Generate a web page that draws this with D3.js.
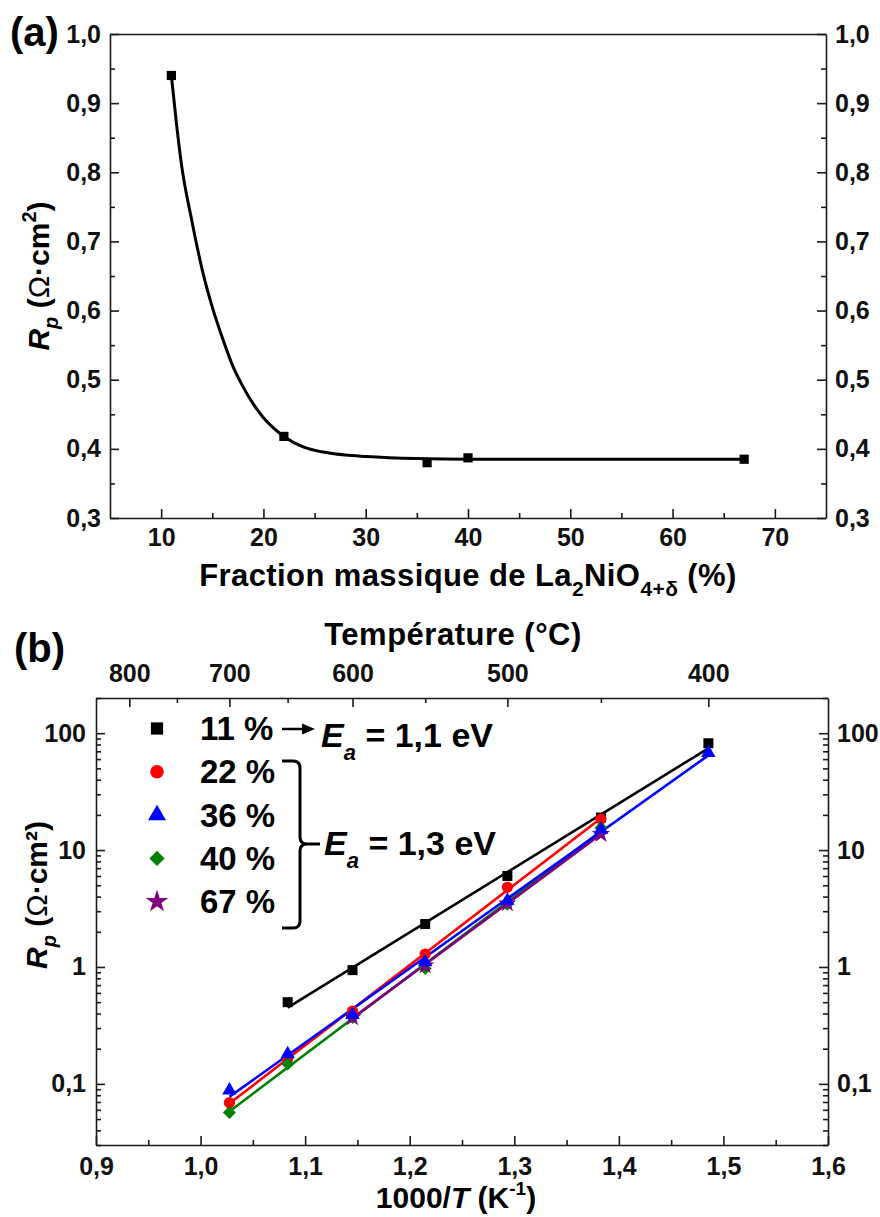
<!DOCTYPE html>
<html><head><meta charset="utf-8">
<script src="https://cdn.jsdelivr.net/npm/d3@7"></script>
<style>
body{margin:0;background:#fff}
svg{display:block;font-family:"Liberation Sans",Arial,sans-serif;font-weight:bold}
.tick text{font-family:"Liberation Sans",Arial,sans-serif;font-weight:bold;font-size:25px;fill:#111}
</style>
</head><body><svg id="c" width="880" height="1217"></svg>
<script>
// ---------- Panel (a) data ----------
const fractionX = [11, 22, 36, 40, 67];
const rpA = [0.94, 0.418, 0.380, 0.387, 0.385];
// fitted decay curve
const curveX = [11, 11.5, 12, 13, 14, 15, 16, 17, 18, 19, 20, 21, 22, 24, 26, 28, 30, 35, 40, 67];
const curveY = [0.94, 0.87, 0.81, 0.73, 0.66, 0.605, 0.56, 0.52, 0.49, 0.465, 0.445, 0.43, 0.418, 0.402, 0.395, 0.391, 0.389, 0.386, 0.385, 0.385];
const xTicksA = [10, 20, 30, 40, 50, 60, 70];
const xMinorA = [15, 25, 35, 45, 55, 65];
const yTicksA = [0.3, 0.4, 0.5, 0.6, 0.7, 0.8, 0.9, 1.0];
const yMinorA = [0.35, 0.45, 0.55, 0.65, 0.75, 0.85, 0.95];

// ---------- Panel (b) data ----------
const invT = [1.0276, 1.0833, 1.1453, 1.2148, 1.2934, 1.3829, 1.4856]; // 1000/T for 700..400 °C
const seriesNames = ["11 %", "22 %", "36 %", "40 %", "67 %"];
const seriesColors = ["#000000", "#ff0000", "#0000ff", "#008000", "#800080"];
const seriesSymbols = ["square", "circle", "triangle", "diamond", "star"];
const rp11 = [null, 0.50, 0.94, 2.33, 6.0, 19.0, 82];
const rp22 = [0.069, 0.165, 0.42, 1.29, 4.8, 18.4, null];
const rp36 = [0.088, 0.18, 0.39, 1.1, 3.7, 15.0, 68];
const rp40 = [0.057, 0.148, 0.37, 0.97, 3.45, 15.5, null];
const rp67 = [null, null, 0.37, 1.03, 3.5, 13.7, null];
const xTicksB = [0.9, 1.0, 1.1, 1.2, 1.3, 1.4, 1.5, 1.6];
const xMinorB = [0.95, 1.05, 1.15, 1.25, 1.35, 1.45, 1.55];
const yTicksB = [0.1, 1, 10, 100];
const tempTicks = [800, 700, 600, 500, 400];
const tempMinor = [750, 650, 550, 450];
const drawOrder = [0, 1, 3, 4, 2];

const svg = d3.select("#c");
const comma = d => d3.format(".1f")(d).replace(".", ",");
const AX = "#1a1a1a";

function styleAxis(g) {
  g.select(".domain").attr("stroke", AX).attr("stroke-width", 1.6);
  g.selectAll(".tick line").attr("stroke", AX).attr("stroke-width", 1.6);
}

// ================= Panel (a) =================
const xa = d3.scaleLinear().domain([5, 75]).range([110, 826]);
const ya = d3.scaleLinear().domain([0.3, 1.0]).range([518, 34]);

const ga = svg.append("g");
ga.append("g").attr("transform", "translate(0,518)")
  .call(d3.axisBottom(xa).tickValues(xMinorA).tickSize(-5).tickSizeOuter(0).tickFormat(""))
  .call(g => g.select(".domain").remove()).call(styleAxis);
ga.append("g").attr("transform", "translate(110,0)")
  .call(d3.axisLeft(ya).tickValues(yMinorA).tickSize(-5).tickSizeOuter(0).tickFormat(""))
  .call(g => g.select(".domain").remove()).call(styleAxis);
ga.append("g").attr("transform", "translate(826,0)")
  .call(d3.axisRight(ya).tickValues(yMinorA).tickSize(-5).tickSizeOuter(0).tickFormat(""))
  .call(g => g.select(".domain").remove()).call(styleAxis);
ga.append("g").attr("transform", "translate(0,518)")
  .call(d3.axisBottom(xa).tickValues(xTicksA).tickSize(-9).tickSizeOuter(0).tickPadding(10).tickFormat(d3.format("d")))
  .call(styleAxis);
ga.append("g").attr("transform", "translate(0,34)")
  .call(d3.axisTop(xa).tickValues([]).tickSizeOuter(0)).call(styleAxis);
ga.append("g").attr("transform", "translate(110,0)")
  .call(d3.axisLeft(ya).tickValues(yTicksA).tickSize(-9).tickSizeOuter(0).tickPadding(9).tickFormat(comma))
  .call(styleAxis);
ga.append("g").attr("transform", "translate(826,0)")
  .call(d3.axisRight(ya).tickValues(yTicksA).tickSize(-9).tickSizeOuter(0).tickPadding(9).tickFormat(comma))
  .call(styleAxis);

ga.append("path")
  .datum(curveX.map((x, i) => [x, curveY[i]]))
  .attr("fill", "none").attr("stroke", "#000").attr("stroke-width", 3)
  .attr("d", d3.line().x(d => xa(d[0])).y(d => ya(d[1])).curve(d3.curveMonotoneX));

ga.selectAll("path.ma").data(fractionX).enter().append("path")
  .attr("class", "ma")
  .attr("transform", (d, i) => `translate(${xa(d)},${ya(rpA[i])})`)
  .attr("d", d3.symbol(d3.symbolSquare, 85)).attr("fill", "#000");

svg.append("text").attr("x", 10).attr("y", 46).attr("font-size", 40).text("(a)");

svg.append("text").attr("x", 468).attr("y", 586).attr("text-anchor", "middle").attr("font-size", 31)
  .attr("letter-spacing", 0.4)
  .call(t => {
    t.append("tspan").text("Fraction massique de La");
    t.append("tspan").attr("font-size", 21).attr("dy", 10).text("2");
    t.append("tspan").attr("dy", -10).text("NiO");
    t.append("tspan").attr("font-size", 21).attr("dy", 10).text("4+δ");
    t.append("tspan").attr("dy", -10).text(" (%)");
  });

svg.append("text").attr("transform", "translate(49,276) rotate(-90)").attr("text-anchor", "middle").attr("font-size", 30)
  .call(t => {
    t.append("tspan").attr("font-style", "italic").text("R");
    t.append("tspan").attr("font-style", "italic").attr("font-size", 20).attr("dy", 9).text("p");
    t.append("tspan").attr("dy", -9).text(" (");
    t.append("tspan").attr("font-weight", "normal").text("Ω");
    t.append("tspan").text("·cm");
    t.append("tspan").attr("font-size", 20).attr("dy", -13).text("2");
    t.append("tspan").attr("dy", 13).text(")");
  });

// ================= Panel (b) =================
const xb = d3.scaleLinear().domain([0.9, 1.6]).range([96, 828]);
const yb = d3.scaleLog().domain([0.03, 200]).range([1145, 698]);
const tempPos = T => 1000 / (T + 273.15);

const minorLog = [];
[0.01, 0.1, 1, 10, 100].forEach(dec => { for (let k = 2; k <= 9; k++) { const v = dec * k; if (v >= 0.03 && v <= 200) minorLog.push(v); } });

const gb = svg.append("g");
gb.append("g").attr("transform", "translate(96,0)")
  .call(d3.axisLeft(yb).tickValues(minorLog).tickSize(-5).tickSizeOuter(0).tickFormat(""))
  .call(g => g.select(".domain").remove()).call(styleAxis);
gb.append("g").attr("transform", "translate(828,0)")
  .call(d3.axisRight(yb).tickValues(minorLog).tickSize(-5).tickSizeOuter(0).tickFormat(""))
  .call(g => g.select(".domain").remove()).call(styleAxis);
gb.append("g").attr("transform", "translate(0,1145)")
  .call(d3.axisBottom(xb).tickValues(xMinorB).tickSize(-5).tickSizeOuter(0).tickFormat(""))
  .call(g => g.select(".domain").remove()).call(styleAxis);
gb.append("g").attr("transform", "translate(0,698)")
  .call(d3.axisTop(xb).tickValues(tempMinor.map(tempPos)).tickSize(-5).tickSizeOuter(0).tickFormat(""))
  .call(g => g.select(".domain").remove()).call(styleAxis);

const fmtLog = d => d < 1 ? String(d).replace(".", ",") : String(d);
gb.append("g").attr("transform", "translate(96,0)")
  .call(d3.axisLeft(yb).tickValues(yTicksB).tickSize(-9).tickSizeOuter(0).tickPadding(10).tickFormat(fmtLog))
  .call(styleAxis);
gb.append("g").attr("transform", "translate(828,0)")
  .call(d3.axisRight(yb).tickValues(yTicksB).tickSize(-9).tickSizeOuter(0).tickPadding(9).tickFormat(fmtLog))
  .call(styleAxis);
gb.append("g").attr("transform", "translate(0,1145)")
  .call(d3.axisBottom(xb).tickValues(xTicksB).tickSize(-9).tickSizeOuter(0).tickPadding(12).tickFormat(comma))
  .call(styleAxis);
const topAx = d3.axisTop(xb).tickValues(tempTicks.map(tempPos)).tickSize(-9).tickSizeOuter(0).tickPadding(16)
  .tickFormat((d, i) => String(tempTicks[i]));
gb.append("g").attr("transform", "translate(0,698)").call(topAx).call(styleAxis);

const allRp = [rp11, rp22, rp36, rp40, rp67];
const symMap = {
  square: d3.symbolSquare, circle: d3.symbolCircle, triangle: d3.symbolTriangle,
  diamond: d3.symbolSquare, star: d3.symbolStar
};
const symSize = { square: 100, circle: 100, triangle: 90, diamond: 85, star: 105 };

// fitted lines (least squares in log space, computed from the data)
drawOrder.forEach(si => {
  const pts = invT.map((x, i) => [x, allRp[si][i]]).filter(p => p[1] != null);
  const n = pts.length;
  const mx = d3.mean(pts, p => p[0]);
  const my = d3.mean(pts, p => Math.log10(p[1]));
  const sxy = d3.sum(pts, p => (p[0] - mx) * (Math.log10(p[1]) - my));
  const sxx = d3.sum(pts, p => (p[0] - mx) ** 2);
  const b = sxy / sxx, a = my - b * mx;
  const x0 = pts[0][0], x1 = pts[n - 1][0];
  gb.append("line")
    .attr("x1", xb(x0)).attr("y1", yb(Math.pow(10, a + b * x0)))
    .attr("x2", xb(x1)).attr("y2", yb(Math.pow(10, a + b * x1)))
    .attr("stroke", seriesColors[si]).attr("stroke-width", 2.6);
});
drawOrder.forEach(si => {
  const s = seriesSymbols[si];
  const pts = invT.map((x, i) => [x, allRp[si][i]]).filter(p => p[1] != null);
  gb.selectAll(null).data(pts).enter().append("path")
    .attr("transform", d => `translate(${xb(d[0])},${yb(d[1])})` + (s === "diamond" ? " rotate(45)" : ""))
    .attr("d", d3.symbol(symMap[s], symSize[s]))
    .attr("fill", seriesColors[si]);
});

// legend
const legSize = { square: 150, circle: 145, triangle: 140, diamond: 115, star: 160 };
seriesNames.forEach((name, i) => {
  const cy = 728.5 + i * 43.3;
  const s = seriesSymbols[i];
  svg.append("path")
    .attr("transform", `translate(157,${cy})` + (s === "diamond" ? " rotate(45)" : ""))
    .attr("d", d3.symbol(symMap[s], legSize[s])).attr("fill", seriesColors[i]);
  svg.append("text").attr("x", 200).attr("y", cy + 11.5).attr("font-size", 33).text(name);
});

// arrow and bracket
svg.append("line").attr("x1", 282).attr("y1", 729).attr("x2", 304).attr("y2", 729).attr("stroke", "#000").attr("stroke-width", 2.5);
svg.append("path").attr("d", "M302,723.5 L315,729 L302,734.5 Z").attr("fill", "#000");
svg.append("path")
  .attr("d", "M282,761 H293 Q300,761 300,768 V837 Q300,844 307,844 H320 M307,844 Q300,844 300,851 V921 Q300,928 293,928 H282")
  .attr("fill", "none").attr("stroke", "#000").attr("stroke-width", 3);

function eaLabel(x, y, val) {
  svg.append("text").attr("x", x).attr("y", y).attr("font-size", 34)
    .call(t => {
      t.append("tspan").attr("font-style", "italic").text("E");
      t.append("tspan").attr("font-style", "italic").attr("font-size", 22).attr("dy", 13).text("a");
      t.append("tspan").attr("dy", -13).text(" = " + val + " eV");
    });
}
eaLabel(321, 747, "1,1");
eaLabel(324, 855, "1,3");

svg.append("text").attr("x", 14).attr("y", 662).attr("font-size", 40).text("(b)");
svg.append("text").attr("x", 453).attr("y", 645).attr("text-anchor", "middle").attr("font-size", 31)
  .attr("letter-spacing", 0.5).text("Température (°C)");

svg.append("text").attr("x", 456).attr("y", 1208).attr("text-anchor", "middle").attr("font-size", 30)
  .call(t => {
    t.append("tspan").text("1000/");
    t.append("tspan").attr("font-style", "italic").text("T");
    t.append("tspan").text(" (K");
    t.append("tspan").attr("font-size", 19).attr("dy", -13).text("-1");
    t.append("tspan").attr("dy", 13).text(")");
  });

svg.append("text").attr("transform", "translate(47,895) rotate(-90)").attr("text-anchor", "middle").attr("font-size", 30)
  .call(t => {
    t.append("tspan").attr("font-style", "italic").text("R");
    t.append("tspan").attr("font-style", "italic").attr("font-size", 20).attr("dy", 9).text("p");
    t.append("tspan").attr("dy", -9).text(" (");
    t.append("tspan").attr("font-weight", "normal").text("Ω");
    t.append("tspan").text("·cm²)");
  });
</script>
</body></html>
